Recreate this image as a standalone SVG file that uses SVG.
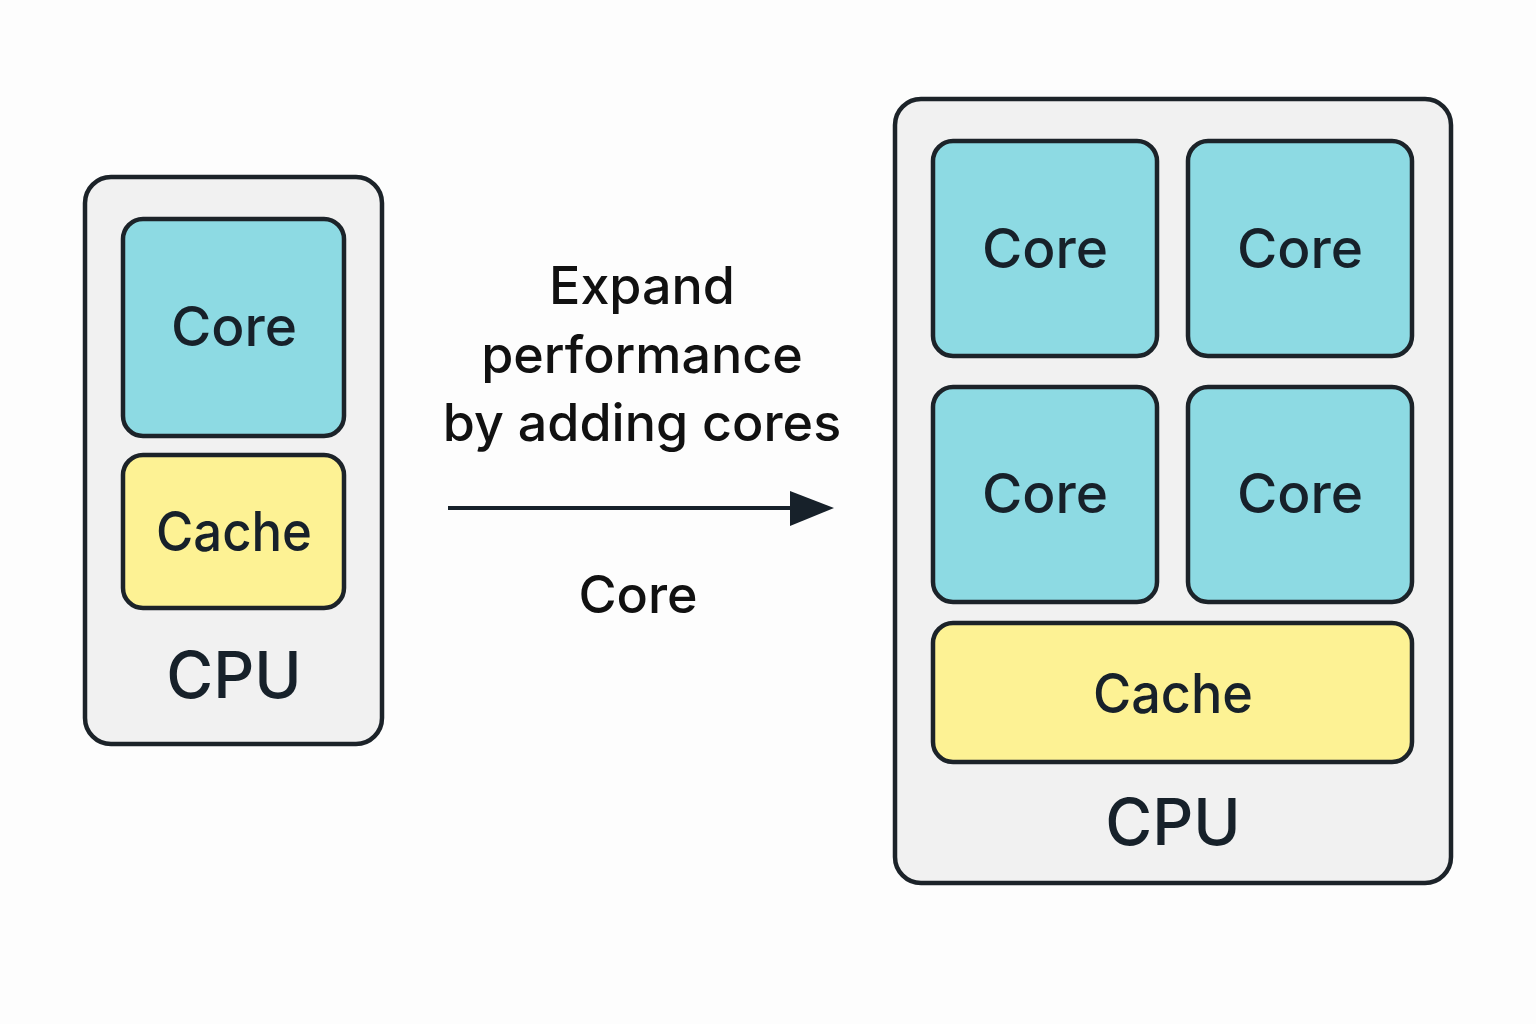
<svg xmlns="http://www.w3.org/2000/svg" width="1536" height="1024" viewBox="0 0 1536 1024">
<style>
.cpu{fill:#f1f1f1;stroke:#1c2329;stroke-width:4.5}
.core{fill:#8ddae3;stroke:#1c2329;stroke-width:4.5}
.cache{fill:#fdf294;stroke:#1c2329;stroke-width:4.5}
text{font-family:"Inter","Liberation Sans",sans-serif;fill:#17212a;text-anchor:middle}
.l{font-size:55px;font-weight:500}
.c{font-size:64px;font-weight:500}
.t{font-size:52px;fill:#111;font-weight:500}
</style>
<rect width="1536" height="1024" fill="#fdfdfd"/>
<g id="cpu1">
<rect class="cpu" x="85" y="177" width="297" height="567" rx="26"/>
<text class="c" x="234" y="698">CPU</text>
</g>
<g id="core1"><rect class="core" x="123" y="219" width="221" height="217" rx="20"/><text class="l" x="234" y="346">Core</text></g>
<g id="cache1"><rect class="cache" x="123" y="455" width="221" height="153" rx="20"/><text class="l" x="234" y="551" textLength="156" lengthAdjust="spacingAndGlyphs">Cache</text></g>
<g id="label">
<text class="t" x="642" y="304">Expand</text>
<text class="t" x="642" y="373">performance</text>
<text class="t" x="642" y="441">by adding cores</text>
<text class="t" x="638" y="613">Core</text>
</g>
<g id="connectors">
<line x1="448" y1="508" x2="792" y2="508" stroke="#17212a" stroke-width="4"/>
<polygon points="790,491 834,508 790,526" fill="#17212a"/>
</g>
<g id="cpu2">
<rect class="cpu" x="895" y="99" width="556" height="784" rx="26"/>
<text class="c" x="1173" y="845">CPU</text>
</g>
<g id="core2a"><rect class="core" x="933" y="141" width="224" height="215" rx="20"/><text class="l" x="1045" y="268">Core</text></g>
<g id="core2b"><rect class="core" x="1188" y="141" width="224" height="215" rx="20"/><text class="l" x="1300" y="268">Core</text></g>
<g id="core2c"><rect class="core" x="933" y="387" width="224" height="215" rx="20"/><text class="l" x="1045" y="513">Core</text></g>
<g id="core2d"><rect class="core" x="1188" y="387" width="224" height="215" rx="20"/><text class="l" x="1300" y="513">Core</text></g>
<g id="cache2"><rect class="cache" x="933" y="623" width="479" height="139" rx="20"/><text class="l" x="1173" y="713" textLength="160" lengthAdjust="spacingAndGlyphs">Cache</text></g>
</svg>
